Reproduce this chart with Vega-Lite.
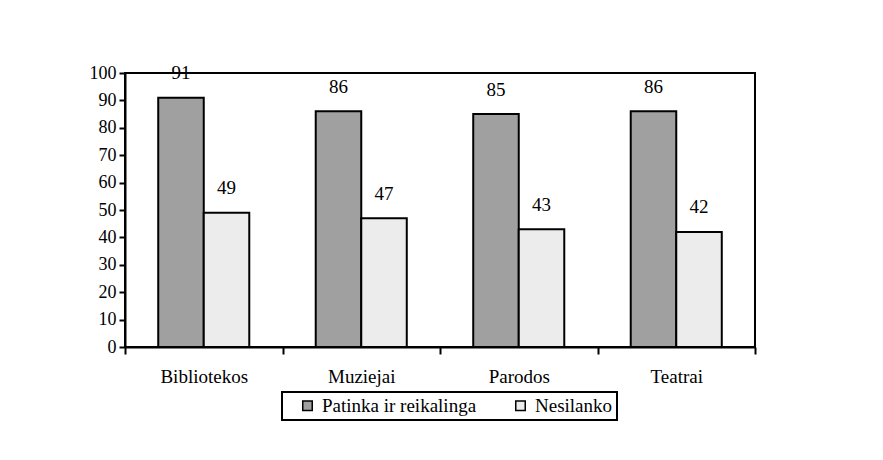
{
  "$schema": "https://vega.github.io/schema/vega-lite/v6.json",
  "width": 630,
  "height": 274,
  "autosize": "none",
  "padding": {"left": 125, "top": 73, "right": 128, "bottom": 113},
  "background": "white",
  "config": {
    "view": {"stroke": "black", "strokeWidth": 2},
    "font": "Liberation Serif",
    "legend": {"strokeWidth": 2}
  },
  "data": {
    "values": [
      {"category": "Bibliotekos", "series": "Patinka ir reikalinga", "value": 91},
      {"category": "Bibliotekos", "series": "Nesilanko", "value": 49},
      {"category": "Muziejai", "series": "Patinka ir reikalinga", "value": 86},
      {"category": "Muziejai", "series": "Nesilanko", "value": 47},
      {"category": "Parodos", "series": "Patinka ir reikalinga", "value": 85},
      {"category": "Parodos", "series": "Nesilanko", "value": 43},
      {"category": "Teatrai", "series": "Patinka ir reikalinga", "value": 86},
      {"category": "Teatrai", "series": "Nesilanko", "value": 42}
    ]
  },
  "encoding": {
    "x": {
      "field": "category",
      "type": "nominal",
      "sort": null,
      "scale": {"paddingInner": 0, "paddingOuter": 0},
      "axis": {
        "title": null,
        "labelAngle": 0,
        "labelFont": "Liberation Serif",
        "labelFontSize": 19,
        "labelColor": "black",
        "labelPadding": 13,
        "tickBand": "extent",
        "tickSize": 7,
        "tickWidth": 2,
        "tickColor": "black",
        "domainColor": "black",
        "domainWidth": 2
      }
    },
    "xOffset": {
      "field": "series",
      "sort": ["Patinka ir reikalinga", "Nesilanko"],
      "scale": {"paddingInner": 0, "paddingOuter": 0.73}
    },
    "y": {
      "field": "value",
      "type": "quantitative",
      "scale": {"domain": [0, 100]},
      "axis": {
        "title": null,
        "values": [0, 10, 20, 30, 40, 50, 60, 70, 80, 90, 100],
        "grid": false,
        "labelFont": "Liberation Serif",
        "labelFontSize": 18,
        "labelColor": "black",
        "labelPadding": 3,
        "tickSize": 6,
        "tickWidth": 2,
        "tickColor": "black",
        "domainColor": "black",
        "domainWidth": 2
      }
    }
  },
  "layer": [
    {
      "mark": {"type": "bar", "stroke": "black", "strokeWidth": 2},
      "encoding": {
        "fill": {
          "field": "series",
          "type": "nominal",
          "scale": {"domain": ["Patinka ir reikalinga", "Nesilanko"], "range": ["#a0a0a0", "#ececec"]},
          "legend": {
            "title": null,
            "orient": "none",
            "legendX": 157,
            "legendY": 319,
            "direction": "horizontal",
            "columns": 2,
            "columnPadding": 22,
            "strokeColor": "black",
            "padding": 4,
            "symbolOffset": 12,
            "symbolType": "square",
            "symbolSize": 90,
            "symbolStrokeColor": "black",
            "symbolStrokeWidth": 1.5,
            "symbolOpacity": 1,
            "labelFont": "Liberation Serif",
            "labelFontSize": 19,
            "labelColor": "black",
            "labelOffset": 5,
            "labelLimit": 300
          }
        }
      }
    },
    {
      "mark": {"type": "text", "baseline": "alphabetic", "dy": -18.5, "font": "Liberation Serif", "fontSize": 19, "color": "black"},
      "encoding": {"text": {"field": "value", "type": "quantitative"}}
    }
  ]
}
